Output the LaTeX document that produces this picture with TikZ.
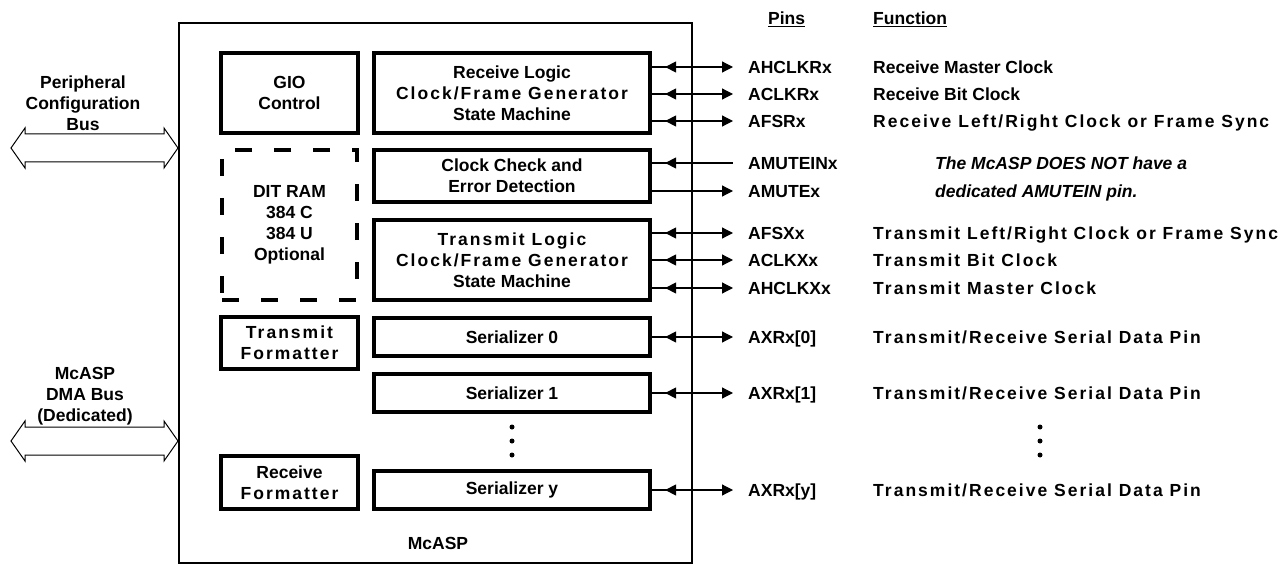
\documentclass[tikz,border=0pt]{standalone}
\usepackage{fontspec}
\setmainfont{Liberation Sans}
\usetikzlibrary{calc,arrows.meta,decorations.markings}
\newcommand\spc[1]{{\addfontfeatures{LetterSpace=11.5}#1}}
\def\busarrow(#1)(#2){\draw[line width=1pt] (#1) -- ++(14,-20) -- ++(0,6) -- ($(#2)+(-14,-14)$) -- ++(0,-6) -- (#2) -- ++(-14,20) -- ++(0,-6) -- ($(#1)+(14,14)$) -- ++(0,6) -- cycle;}
\tikzset{
	blk/.style={draw, line width=3.8pt, align=center, inner sep=0pt},
	pinlbl/.style={anchor=west, inner xsep=15pt, inner ysep=0pt, text height=12.5pt, text depth=0pt},
	fnlbl/.style={anchor=west, inner sep=0pt, text height=12.5pt, text depth=0pt},
	pinline/.style={line width=1.2pt},
	backtip/.style={postaction={decorate}, decoration={markings, mark=at position 13pt with {\arrowreversed{Triangle[length=11pt,width=11pt]}}}},
	bidir/.style={pinline, backtip, -{Triangle[length=11pt,width=11pt]}},
	inpin/.style={pinline, backtip},
	outpin/.style={pinline, -{Triangle[length=11pt,width=11pt]}}
}
\begin{document}
\begin{tikzpicture}[x=1pt, y=-1pt, font=\fontsize{17.5}{21}\selectfont\bfseries]
		%%%%% START %%%%%
		\useasboundingbox (0,0) rectangle (1287,564);
		
		\node[draw, line width=2pt, minimum width=513pt, minimum height=539pt] (mcasp) at (435.5,293) {};
		\node (mcasplbl) at (438,543) {McASP};
		
		\node[blk, minimum width=137.5pt, minimum height=80.5pt] (gio) at (289.5,93) {GIO\\Control};
		\node[blk, dash pattern=on 17pt off 22pt, minimum width=135pt, minimum height=150pt] (dit) at (289.5,225) {DIT RAM\\384 C\\384 U\\Optional};
		\node[blk, minimum width=137.5pt, minimum height=52.5pt] (tf) at (289.5,343) {\spc{Transmit}\\\spc{Formatter}};
		\node[blk, minimum width=137.5pt, minimum height=53.5pt] (rf) at (289.5,482.5) {Receive\\\spc{Formatter}};
		
		\node[blk, minimum width=276.5pt, minimum height=80.5pt] (rl) at (512,93) {Receive Logic\\\spc{Clock/Frame Generator}\\State Machine};
		\node[blk, minimum width=276.5pt, minimum height=52.5pt] (cc) at (512,176) {Clock Check and\\Error Detection};
		\node[blk, minimum width=276.5pt, minimum height=80.5pt] (tl) at (512,260) {\spc{Transmit Logic}\\\spc{Clock/Frame Generator}\\State Machine};
		\node[blk, minimum width=276.5pt, minimum height=38.5pt] (s0) at (512,337) {Serializer 0};
		\node[blk, minimum width=276.5pt, minimum height=38.5pt] (s1) at (512,393) {Serializer 1};
		\node[blk, minimum width=276.5pt, minimum height=38.5pt] (sy) at (512,490) {Serializer y};
		
		\foreach \y in {427,441,455} {
			\fill (512,\y) circle (2.5pt);
			\fill (1040,\y) circle (2.5pt);
		}
		
		\coordinate (pcb) at (11,148);
		\coordinate (dma) at (11,441);
		\busarrow(pcb)(mcasp.west |- pcb)
		\busarrow(dma)(mcasp.west |- dma)
		\node[align=center] (pcblbl) at (83,103) {Peripheral\\Configuration\\Bus};
		\node[align=center] (dmalbl) at (85,396) {McASP\\DMA Bus\\(Dedicated)};
		
		\node[anchor=west, inner sep=0pt] (pinshd) at (768,19) {\underline{Pins}};
		\node[anchor=west, inner sep=0pt] (fnhd) at (873,19) {\underline{Function}};
		
		\foreach \n/\y/\txt in {1/67/AHCLKRx, 2/94/ACLKRx, 3/121/AFSRx, 4/163/AMUTEINx, 5/191/AMUTEx, 6/233/AFSXx, 7/260/ACLKXx, 8/288/AHCLKXx, 9/337/{AXRx[0]}, 10/393/{AXRx[1]}, 11/490/{AXRx[y]}}
			\node[pinlbl] (p\n) at (733,\y) {\txt};
		
		\foreach \n/\b/\s in {1/rl/bidir, 2/rl/bidir, 3/rl/bidir, 4/cc/inpin, 5/cc/outpin, 6/tl/bidir, 7/tl/bidir, 8/tl/bidir, 9/s0/bidir, 10/s1/bidir, 11/sy/bidir}
			\draw[\s] (\b.east |- p\n.west) -- (p\n.west);
		
		\foreach \n/\y/\txt in {1/67/{Receive Master Clock}, 2/94/{Receive Bit Clock}, 3/121/{\spc{Receive Left/Right Clock or Frame Sync}}, 6/233/{\spc{Transmit Left/Right Clock or Frame Sync}}, 7/260/{\spc{Transmit Bit Clock}}, 8/288/{\spc{Transmit Master Clock}}, 9/337/{\spc{Transmit/Receive Serial Data Pin}}, 10/393/{\spc{Transmit/Receive Serial Data Pin}}, 11/490/{\spc{Transmit/Receive Serial Data Pin}}}
			\node[fnlbl] (f\n) at (873,\y) {\txt};
		
		\node[fnlbl, font=\fontsize{17.5}{21}\selectfont\bfseries\itshape] (note1) at (935,163) {The McASP DOES NOT have a};
		\node[fnlbl, font=\fontsize{17.5}{21}\selectfont\bfseries\itshape] (note2) at (935,191) {dedicated AMUTEIN pin.};
		
		%%%%% END %%%%%
	\end{tikzpicture}
\end{document}
